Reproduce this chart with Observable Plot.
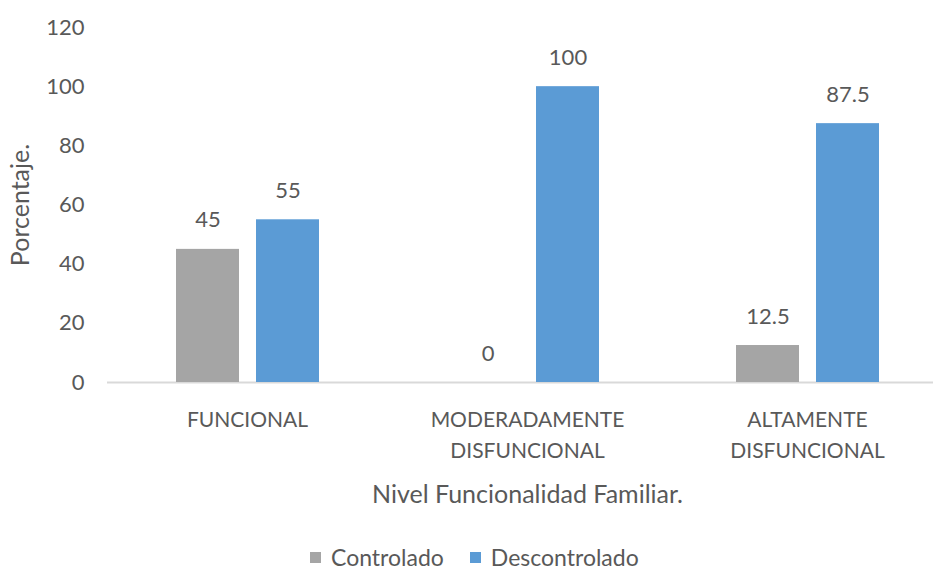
<!DOCTYPE html>
<html>
<head>
<meta charset="utf-8">
<script src="https://cdn.jsdelivr.net/npm/d3@7"></script>
<script src="https://cdn.jsdelivr.net/npm/@observablehq/plot@0.6"></script>
<style>
  html, body { margin: 0; padding: 0; background: #ffffff; }
  #chart { width: 933px; font-family: Lato, sans-serif; color: #595959; }
  #chart svg { display: block; overflow: visible; }
  .legend { display: flex; align-items: center; height: 22px; line-height: 22px; margin-top: 26px; padding-left: 310px; font-size: 23px; }
  .legend .item { display: flex; align-items: center; margin-right: 26px; }
  .legend .swatch { width: 11px; height: 11px; margin-right: 10px; }
</style>
</head>
<body>
<div id="chart"></div>
<script>
// Nivel de funcionalidad familiar vs. control (porcentajes)
const categories = ["FUNCIONAL", "MODERADAMENTE DISFUNCIONAL", "ALTAMENTE DISFUNCIONAL"];
const categoryLabels = ["FUNCIONAL", "MODERADAMENTE\nDISFUNCIONAL", "ALTAMENTE\nDISFUNCIONAL"];
const series = ["Controlado", "Descontrolado"];
const controlado = [45, 0, 12.5];
const descontrolado = [55, 100, 87.5];
const seriesColors = ["#a5a5a5", "#5b9bd5"];
const yTicks = [0, 20, 40, 60, 80, 100, 120];

const valuesBySeries = [controlado, descontrolado];
const data = [];
categories.forEach((c, i) => {
  series.forEach((s, j) => {
    data.push({categoria: c, serie: s, valor: valuesBySeries[j][i]});
  });
});
const labelOf = new Map(categories.map((c, i) => [c, categoryLabels[i]]));
const blank = () => "";

const chart = Plot.plot({
  width: 933,
  height: 520,
  marginLeft: 107,
  marginRight: -14,
  marginTop: 27,
  marginBottom: 138,
  style: {fontFamily: "Lato, sans-serif", fontSize: "22px", color: "#595959", background: "#ffffff"},
  fx: {domain: categories, padding: 0},
  x: {domain: series, paddingInner: 0.2125, paddingOuter: 0.856, axis: null},
  y: {domain: [0, 120]},
  color: {domain: series, range: seriesColors},
  marks: [
    // tick labels of the value axis
    Plot.axisY({ticks: yTicks, tickSize: 0, tickPadding: 23, fontSize: 22, label: null}),
    // value axis title
    Plot.axisY({ticks: [], tickSize: 0, tickFormat: blank, fontSize: 25,
      label: "Porcentaje.", labelAnchor: "center", labelArrow: "none", labelOffset: 96}),
    // category labels
    Plot.axisFx({anchor: "bottom", tickSize: 0, tickPadding: 22, fontSize: 21, lineHeight: 1.48,
      tickFormat: d => labelOf.get(d), label: null}),
    // category axis title
    Plot.axisFx({anchor: "bottom", tickSize: 0, tickFormat: blank, fontSize: 25,
      label: "Nivel Funcionalidad Familiar.", labelAnchor: "center", labelArrow: "none", labelOffset: 120}),
    Plot.ruleY([0], {stroke: "#d9d9d9", strokeWidth: 2}),
    Plot.barY(data, {fx: "categoria", x: "serie", y: "valor", fill: "serie"}),
    Plot.text(data, {
      fx: "categoria", x: "serie", y: "valor",
      text: d => String(d.valor), dy: -29, lineAnchor: "middle", fontSize: 22, fill: "#595959"
    })
  ]
});

const root = document.getElementById("chart");
root.appendChild(chart);

const legend = document.createElement("div");
legend.className = "legend";
series.forEach((s, i) => {
  const item = document.createElement("div");
  item.className = "item";
  const sw = document.createElement("span");
  sw.className = "swatch";
  sw.style.background = seriesColors[i];
  const label = document.createElement("span");
  label.textContent = s;
  item.appendChild(sw);
  item.appendChild(label);
  legend.appendChild(item);
});
root.appendChild(legend);
</script>
</body>
</html>
